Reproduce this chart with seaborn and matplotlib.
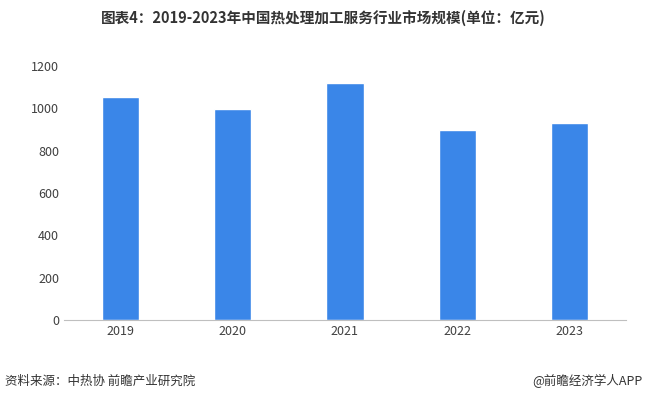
import matplotlib
matplotlib.use("Agg")
import matplotlib.pyplot as plt
import seaborn as sns
import pandas as pd

years = ["2019", "2020", "2021", "2022", "2023"]
values = [1053, 997, 1120, 897, 930]
yticks = [0, 200, 400, 600, 800, 1000, 1200]

sns.set_style("white")
plt.rcParams["font.family"] = ["Noto Sans CJK SC", "DejaVu Sans"]

df = pd.DataFrame({"year": years, "value": values})

fig = plt.figure(figsize=(6.46, 4.03), dpi=100)
ax = fig.add_axes([0.099, 0.206, 0.87, 0.63])
sns.barplot(data=df, x="year", y="value", color="#3a86e8", width=0.33,
            saturation=1, ax=ax)

ax.set_ylim(0, 1200)
ax.set_yticks(yticks)
ax.set_xlabel("")
ax.set_ylabel("")
ax.tick_params(axis="both", labelsize=9, colors="#404040", length=0)
for s in ["top", "right", "left"]:
    ax.spines[s].set_visible(False)
ax.spines["bottom"].set_color("#bfbfbf")

fig.text(0.5, 0.955, "图表4：2019-2023年中国热处理加工服务行业市场规模(单位：亿元)",
         ha="center", va="center", fontsize=10.5, fontweight="bold", color="#333333")
fig.text(0.008, 0.055, "资料来源：中热协 前瞻产业研究院", ha="left", va="center",
         fontsize=9, color="#333333")
fig.text(0.995, 0.055, "@前瞻经济学人APP", ha="right", va="center",
         fontsize=9, color="#333333")

fig.savefig("out.png", dpi=100)
